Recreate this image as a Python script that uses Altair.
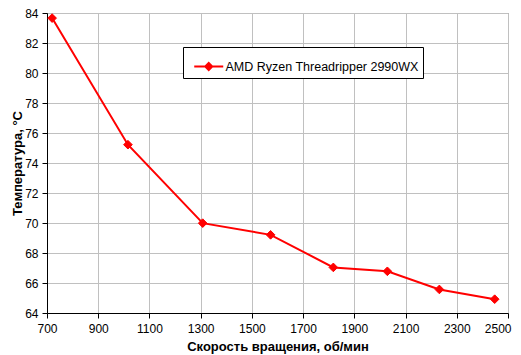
import altair as alt
import pandas as pd

series_name = "AMD Ryzen Threadripper 2990WX"
rpm = [720, 1016, 1308, 1573, 1818, 2029, 2232, 2448]
temp = [83.66, 75.22, 69.99, 69.21, 67.04, 66.78, 65.57, 64.92]
x_ticks = [700, 900, 1100, 1300, 1500, 1700, 1900, 2100, 2300, 2500]
y_ticks = [64, 66, 68, 70, 72, 74, 76, 78, 80, 82, 84]

df = pd.DataFrame({"rpm": rpm, "temp": temp, "series": [series_name] * len(rpm)})

FONT = "Liberation Sans"

x_enc = alt.X(
    "rpm:Q",
    scale=alt.Scale(domain=[700, 2500], nice=False, zero=False),
    axis=alt.Axis(
        values=x_ticks, title="Скорость вращения, об/мин", format="d",
        titleY=37, titleBaseline="alphabetic", labelPadding=5,
        labelOverlap=False, labelFlush=False,
        labelAlign={"condition": {"test": "datum.value == 2500", "value": "right"}, "value": "center"},
        labelOffset={"condition": {"test": "datum.value == 2500", "value": 3}, "value": 0},
    ),
)
y_enc = alt.Y(
    "temp:Q",
    scale=alt.Scale(domain=[64, 84], nice=False, zero=False),
    axis=alt.Axis(
        values=y_ticks, title="Температура, °C", format="d",
        titleX=-30, titleBaseline="middle", titleAngle=-90, labelPadding=4,
        labelOverlap=False, labelFlush=False,
    ),
)
color_enc = alt.Color(
    "series:N",
    scale=alt.Scale(range=["#ff0000"]),
    legend=alt.Legend(
        title=None, orient="none", legendX=136, legendY=34,
        strokeColor="black", fillColor="white", padding=4,
        symbolType="M-0.57,0L1.43,0M0.43,-0.24L0.67,0L0.43,0.24L0.19,0Z",
        symbolSize=841, symbolStrokeWidth=2, symbolFillColor="#ff0000",
        symbolStrokeColor="#ff0000", labelLimit=0,
        labelOffset=7.5, labelFontSize=12.5, labelFont=FONT, labelColor="black",
    ),
)

line = alt.Chart(df).mark_line(color="#ff0000", strokeWidth=2).encode(
    x=x_enc, y=y_enc, color=color_enc
)
points = alt.Chart(df).mark_point(
    shape="diamond", filled=True, size=75, color="#ff0000",
    stroke="#ff0000", strokeWidth=1, opacity=1,
).encode(x=x_enc, y=y_enc)

chart = (
    alt.layer(line, points)
    .properties(
        width=461, height=300,
        autosize=alt.AutoSizeParams(type="none"),
        padding={"left": 39, "top": 5, "right": 5, "bottom": 42},
    )
    .configure(background="white")
    .configure_view(stroke="#808080", strokeWidth=1)
    .configure_axis(
        grid=True, gridColor="#c0c0c0", gridWidth=1,
        domainColor="black", domainWidth=1,
        tickColor="black", tickSize=5, tickWidth=1,
        labelFont=FONT, labelFontSize=12, labelColor="black",
        titleFont=FONT, titleFontSize=13, titleFontWeight="bold", titleColor="black",
    )
)

chart.save("out.html", embed_options={"renderer": "svg", "actions": False})
